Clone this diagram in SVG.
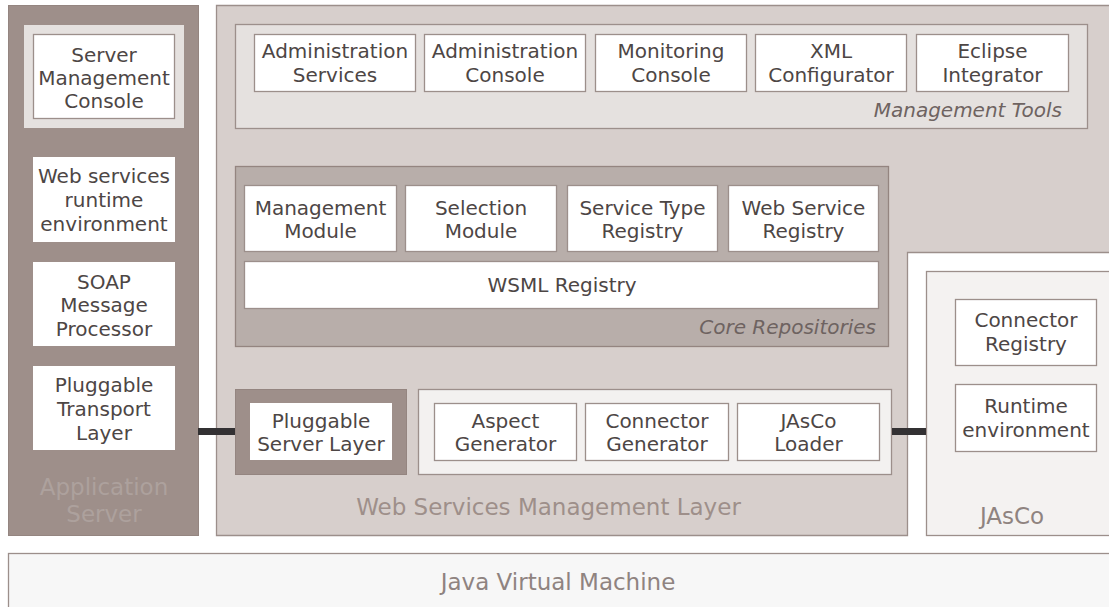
<svg xmlns="http://www.w3.org/2000/svg" width="1109" height="607" viewBox="0 0 1109 607">
  <style>
    text { font-family: "DejaVu Sans", Verdana, "Liberation Sans", sans-serif; }
    .box { fill: #ffffff; stroke: #9c8f8b; stroke-width: 1.3; }
    .lbl { font-size: 20px; fill: #4d4645; text-anchor: middle; }
    .cap { font-size: 20px; fill: #6e6361; font-style: italic; text-anchor: end; }
    .big { font-size: 23px; text-anchor: middle; }
    .edge { stroke: #333133; stroke-width: 7; fill: none; }
  </style>

  <rect width="1109" height="607" fill="#ffffff"/>

  <!-- Java Virtual Machine -->
  <g id="jvm">
    <rect x="8.5" y="553.5" width="1110" height="70" fill="#f7f7f7" stroke="#9c8f8b" stroke-width="1.3"/>
    <text class="big" x="558" y="590" fill="#8f8380">Java Virtual Machine</text>
  </g>

  <!-- Application Server column -->
  <g id="application-server">
    <rect x="8.5" y="5.5" width="190" height="530" fill="#9e8f8a" stroke="#948580" stroke-width="1"/>
    <text class="big" x="104" y="495" fill="#ada19d">Application</text>
    <text class="big" x="104" y="522" fill="#ada19d">Server</text>
  </g>
  <g id="server-management-console">
    <rect x="24" y="25" width="160" height="103" fill="#e5e1df"/>
    <rect class="box" x="33.5" y="34.5" width="141" height="84"/>
    <text class="lbl" x="104" y="62">Server</text>
    <text class="lbl" x="104" y="85">Management</text>
    <text class="lbl" x="104" y="108">Console</text>
  </g>
  <g id="ws-runtime">
    <rect x="33" y="157" width="142" height="85" fill="#ffffff"/>
    <text class="lbl" x="104" y="183">Web services</text>
    <text class="lbl" x="104" y="207">runtime</text>
    <text class="lbl" x="104" y="231">environment</text>
  </g>
  <g id="soap-processor">
    <rect x="33" y="262" width="142" height="84" fill="#ffffff"/>
    <text class="lbl" x="104" y="289">SOAP</text>
    <text class="lbl" x="104" y="312">Message</text>
    <text class="lbl" x="104" y="336">Processor</text>
  </g>
  <g id="pluggable-transport">
    <rect x="33" y="366" width="142" height="84" fill="#ffffff"/>
    <text class="lbl" x="104" y="392">Pluggable</text>
    <text class="lbl" x="104" y="416">Transport</text>
    <text class="lbl" x="104" y="440">Layer</text>
  </g>

  <!-- Web Services Management Layer (L-shaped panel) -->
  <g id="wsml-layer">
    <path d="M216.5,5.5 H1115 V252.5 H907.5 V535.5 H216.5 Z" fill="#d7cfcc" stroke="#9c8f8b" stroke-width="1.3"/>
    <text class="big" x="548.5" y="515" fill="#9e8f8a">Web Services Management Layer</text>
  </g>

  <!-- Management Tools -->
  <g id="management-tools">
    <rect x="235.5" y="24.5" width="852" height="104" fill="#e5e1df" stroke="#9c8f8b" stroke-width="1.3"/>
    <text class="cap" x="1062" y="117">Management Tools</text>
  </g>
  <g id="administration-services">
    <rect class="box" x="254.5" y="34.5" width="161" height="57"/>
    <text class="lbl" x="335" y="58">Administration</text>
    <text class="lbl" x="335" y="82">Services</text>
  </g>
  <g id="administration-console">
    <rect class="box" x="424.5" y="34.5" width="161" height="57"/>
    <text class="lbl" x="505" y="58">Administration</text>
    <text class="lbl" x="505" y="82">Console</text>
  </g>
  <g id="monitoring-console">
    <rect class="box" x="595.5" y="34.5" width="151" height="57"/>
    <text class="lbl" x="671" y="58">Monitoring</text>
    <text class="lbl" x="671" y="82">Console</text>
  </g>
  <g id="xml-configurator">
    <rect class="box" x="755.5" y="34.5" width="151" height="57"/>
    <text class="lbl" x="831" y="58">XML</text>
    <text class="lbl" x="831" y="82">Configurator</text>
  </g>
  <g id="eclipse-integrator">
    <rect class="box" x="916.5" y="34.5" width="152" height="57"/>
    <text class="lbl" x="992.5" y="58">Eclipse</text>
    <text class="lbl" x="992.5" y="82">Integrator</text>
  </g>

  <!-- Core Repositories -->
  <g id="core-repositories">
    <rect x="235.5" y="166.5" width="653" height="180" fill="#b8aeaa" stroke="#948580" stroke-width="1.3"/>
    <text class="cap" x="876" y="334">Core Repositories</text>
  </g>
  <g id="management-module">
    <rect class="box" x="244.5" y="185.5" width="152" height="66"/>
    <text class="lbl" x="320.5" y="214.5">Management</text>
    <text class="lbl" x="320.5" y="238">Module</text>
  </g>
  <g id="selection-module">
    <rect class="box" x="405.5" y="185.5" width="151" height="66"/>
    <text class="lbl" x="481" y="214.5">Selection</text>
    <text class="lbl" x="481" y="238">Module</text>
  </g>
  <g id="service-type-registry">
    <rect class="box" x="567.5" y="185.5" width="150" height="66"/>
    <text class="lbl" x="642.5" y="214.5">Service Type</text>
    <text class="lbl" x="642.5" y="238">Registry</text>
  </g>
  <g id="web-service-registry">
    <rect class="box" x="728.5" y="185.5" width="150" height="66"/>
    <text class="lbl" x="803.5" y="214.5">Web Service</text>
    <text class="lbl" x="803.5" y="238">Registry</text>
  </g>
  <g id="wsml-registry">
    <rect class="box" x="244.5" y="261.5" width="634" height="47"/>
    <text class="lbl" x="562" y="292">WSML Registry</text>
  </g>

  <!-- Pluggable Server Layer -->
  <g id="pluggable-server">
    <rect x="235.5" y="389.5" width="171" height="85" fill="#9e8f8a" stroke="#948580" stroke-width="1"/>
    <rect x="250" y="403" width="142" height="57" fill="#ffffff"/>
    <text class="lbl" x="321" y="427.5">Pluggable</text>
    <text class="lbl" x="321" y="451">Server Layer</text>
  </g>

  <!-- Generators and loader -->
  <g id="generators">
    <rect x="418.5" y="389.5" width="473" height="85" fill="#f3f1f0" stroke="#9c8f8b" stroke-width="1.3"/>
  </g>
  <g id="aspect-generator">
    <rect class="box" x="434.5" y="403.5" width="142" height="57"/>
    <text class="lbl" x="505.5" y="427.5">Aspect</text>
    <text class="lbl" x="505.5" y="451">Generator</text>
  </g>
  <g id="connector-generator">
    <rect class="box" x="585.5" y="403.5" width="143" height="57"/>
    <text class="lbl" x="657" y="427.5">Connector</text>
    <text class="lbl" x="657" y="451">Generator</text>
  </g>
  <g id="jasco-loader">
    <rect class="box" x="737.5" y="403.5" width="142" height="57"/>
    <text class="lbl" x="808.5" y="427.5">JAsCo</text>
    <text class="lbl" x="808.5" y="451">Loader</text>
  </g>

  <!-- JAsCo -->
  <g id="jasco">
    <rect x="926.5" y="271.5" width="200" height="264" fill="#f4f2f1" stroke="#9c8f8b" stroke-width="1.3"/>
    <text class="big" x="1012" y="524" fill="#8f8380">JAsCo</text>
  </g>
  <g id="connector-registry">
    <rect class="box" x="955.5" y="299.5" width="141" height="66"/>
    <text class="lbl" x="1026" y="327">Connector</text>
    <text class="lbl" x="1026" y="351">Registry</text>
  </g>
  <g id="runtime-environment">
    <rect class="box" x="955.5" y="384.5" width="141" height="67"/>
    <text class="lbl" x="1026" y="413">Runtime</text>
    <text class="lbl" x="1026" y="436.5">environment</text>
  </g>

  <!-- Connectors -->
  <g id="connectors">
    <line class="edge" x1="198" y1="431.5" x2="235" y2="431.5"/>
    <line class="edge" x1="892" y1="431.5" x2="926" y2="431.5"/>
  </g>
</svg>
